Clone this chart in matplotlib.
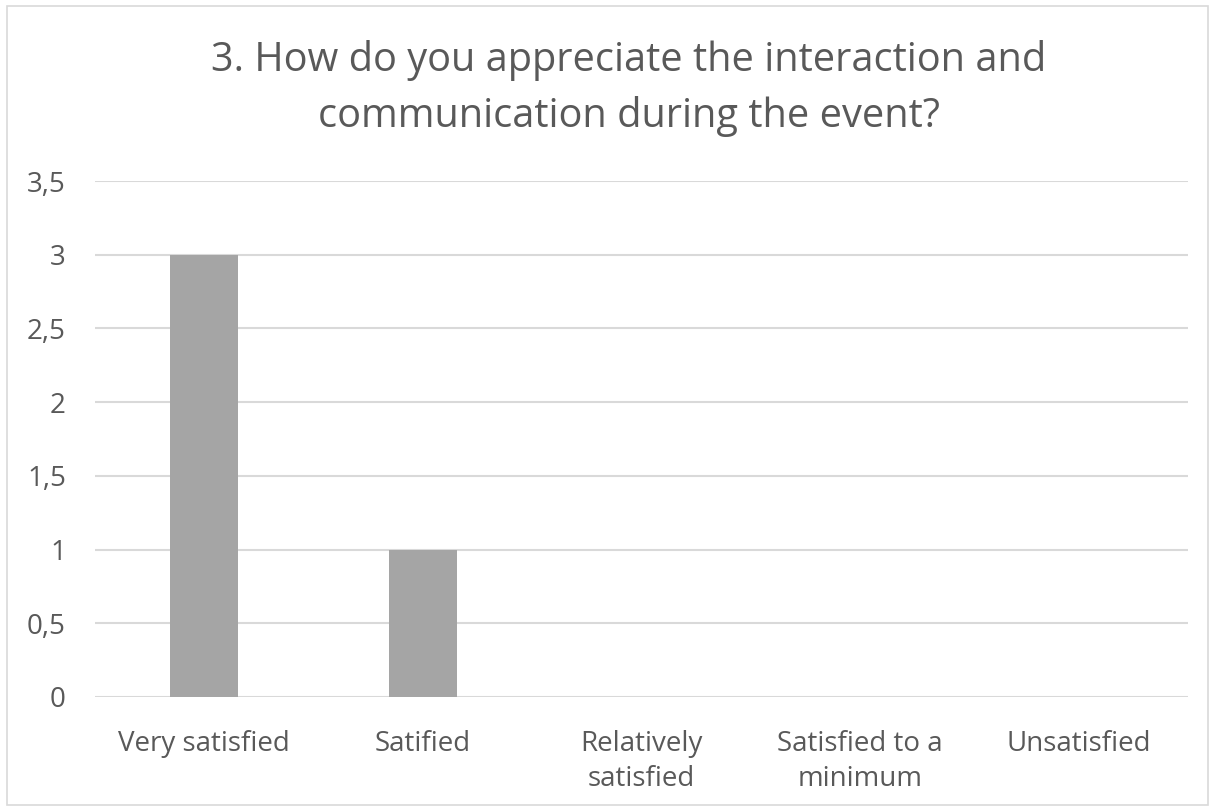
import numpy as np
import matplotlib.pyplot as plt
from matplotlib.patches import Rectangle

# Datos del gráfico
categorias = ["Very satisfied", "Satified", "Relatively\nsatisfied",
              "Satisfied to a\nminimum", "Unsatisfied"]
valores = [3, 1, 0, 0, 0]
ticks_y = [0, 0.5, 1, 1.5, 2, 2.5, 3, 3.5]
etiquetas_y = ["0", "0,5", "1", "1,5", "2", "2,5", "3", "3,5"]
titulo = "3. How do you appreciate the interaction and\ncommunication during the event?"

gris_texto = "#595959"
plt.rcParams['font.family'] = ['Open Sans', 'DejaVu Sans']

fig = plt.figure(figsize=(12.14, 8.11), dpi=100)
ax = fig.add_axes([0.0783, 0.1406, 0.9003, 0.6362])

# Marco exterior del gráfico
fig.patches.append(Rectangle((0.006, 0.007), 0.989, 0.986, transform=fig.transFigure,
                             fill=False, edgecolor="#D9D9D9", linewidth=1.2))

x = np.arange(len(categorias))
ax.bar(x, valores, width=0.31, color="#A5A5A5", zorder=3)

ax.set_xlim(-0.5, len(categorias) - 0.5)
ax.set_ylim(0, 3.5)
ax.set_yticks(ticks_y)
ax.set_yticklabels(etiquetas_y)
ax.set_xticks(x)
ax.set_xticklabels(categorias, linespacing=1.33)
ax.grid(axis="y", color="#D9D9D9", linewidth=1.5, zorder=0)
ax.tick_params(axis="both", length=0, labelsize=20, labelcolor=gris_texto)
ax.tick_params(axis="x", pad=23.5)
ax.tick_params(axis="y", pad=21)
for s in ax.spines.values():
    s.set_visible(False)

fig.text(0.518, 0.891, titulo, ha="center", va="center", fontsize=28.6,
         color=gris_texto, linespacing=1.5)

plt.savefig("out.png", dpi=100)
